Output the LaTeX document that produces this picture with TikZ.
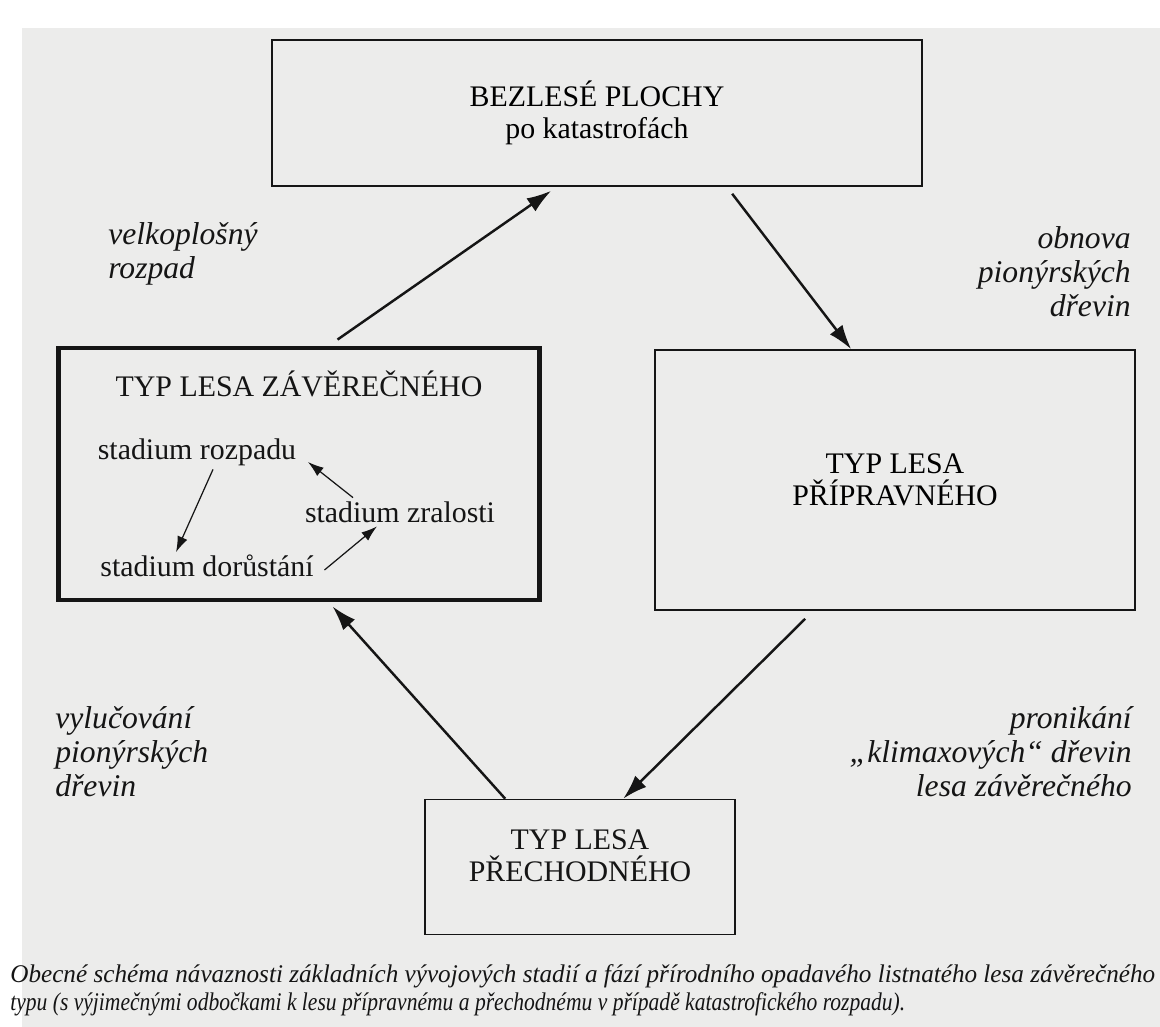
\documentclass[tikz,border=0pt]{standalone}
\usepackage{fontspec}
\setmainfont{Liberation Serif}
\usepackage{graphicx}
\usepackage{tikz}
\usetikzlibrary{arrows.meta, calc}
\definecolor{my_paper}{HTML}{ECECEB}
\definecolor{my_ink}{HTML}{151515}

\begin{document}
\begin{tikzpicture}[
    x=0.02cm, y=-0.02cm,
    stagebox/.style={draw=my_ink, line width=0.9pt, inner sep=0pt, align=center,
        font=\fontsize{17}{18}\selectfont},
    stagetext/.style={inner sep=2pt, text=my_ink, align=center,
        font=\fontsize{17}{18}\selectfont},
    processlabel/.style={inner sep=0pt, text=my_ink,
        font=\fontsize{18}{19.5}\selectfont\itshape},
    captionline/.style={anchor=west, inner sep=0pt, text=my_ink,
        font=\fontsize{14.5}{15}\selectfont\itshape},
    bigarrow/.style={draw=my_ink, line width=1.4pt, -{Latex[length=14pt,width=9pt]}},
    smallarrow/.style={draw=my_ink, line width=0.7pt, -{Latex[length=9pt,width=6pt]}}
]

% Page: 1160 x 1027 px, 1 px = 0.02 cm, y grows downwards
\useasboundingbox (0,0) rectangle (1160,1027);
\fill[white] (0,0) rectangle (1160,1027);
\fill[my_paper] (22,28) rectangle (1160,1027);

% Stage boxes
\node[stagebox, minimum width=13cm, minimum height=2.92cm] (bezlesi) at (597,113)
    {BEZLESÉ PLOCHY\\po katastrofách};
\node[stagebox, line width=2.8pt, minimum width=9.64cm, minimum height=5.04cm]
    (zaverecny) at (299,474) {};
\node[stagebox, minimum width=9.6cm, minimum height=5.2cm] (pripravny) at (895,480)
    {TYP LESA\\PŘÍPRAVNÉHO};
\node[stagebox, minimum width=6.2cm, minimum height=2.7cm] (prechodny) at (580,867) {};
\node[stagetext] (prechodtext) at (580,856) {TYP LESA\\PŘECHODNÉHO};

% Inside the climax forest box
\node[stagetext] (zavtitle) at (299,384) {TYP LESA ZÁVĚREČNÉHO};
\node[stagetext] (rozpad) at (197,452) {stadium rozpadu};
\node[stagetext] (zralost) at (400,512) {stadium zralosti};
\node[stagetext] (dorustani) at (207,566) {stadium dorůstání};

\draw[smallarrow] ([xshift=0.32cm]rozpad.south) -- ([xshift=-0.62cm,yshift=-0.02cm]dorustani.north);
\draw[smallarrow] ([xshift=0.14cm,yshift=-0.08cm]dorustani.east) -- ([xshift=-0.46cm]zralost.south);
\draw[smallarrow] ([xshift=-0.94cm]zralost.north) -- ([xshift=0.16cm,yshift=-0.2cm]rozpad.east);

% Main cycle
\draw[bigarrow] ([xshift=5.64cm,yshift=0.12cm]zaverecny.north west)
    -- ([xshift=5.6cm,yshift=-0.08cm]bezlesi.south west);
\draw[bigarrow] ([xshift=9.22cm,yshift=-0.14cm]bezlesi.south west)
    -- ([xshift=3.94cm]pripravny.north west);
\draw[bigarrow] ([xshift=3.02cm,yshift=-0.16cm]pripravny.south west)
    -- ([xshift=3.98cm]prechodny.north west);
\draw[bigarrow] ([xshift=1.62cm]prechodny.north west)
    -- ([xshift=5.54cm,yshift=-0.08cm]zaverecny.south west);

% Process labels
\node[processlabel, anchor=north west, align=left] (lrozpad) at (108,222)
    {velkoplošný\\rozpad};
\node[processlabel, anchor=north east, align=right] (lobnova) at (1131,226)
    {obnova\\pionýrských\\dřevin};
\node[processlabel, anchor=north west, align=left] (lvylucovani) at (55,706)
    {vylučování\\pionýrských\\dřevin};
\node[processlabel, anchor=north east, align=right] (lpronikani) at (1132,706)
    {pronikání\\„klimaxových“ dřevin\\lesa závěrečného};

% Caption
\node[captionline] (caption1) at (10,976)
    {\resizebox{22.9cm}{\height}{Obecné schéma návaznosti základních vývojových stadií a fází přírodního opadavého listnatého lesa závěrečného}};
\node[captionline] (caption2) at (10,1004)
    {\resizebox{17.9cm}{\height}{typu (s výjimečnými odbočkami k lesu přípravnému a přechodnému v případě katastrofického rozpadu).}};

\end{tikzpicture}
\end{document}
